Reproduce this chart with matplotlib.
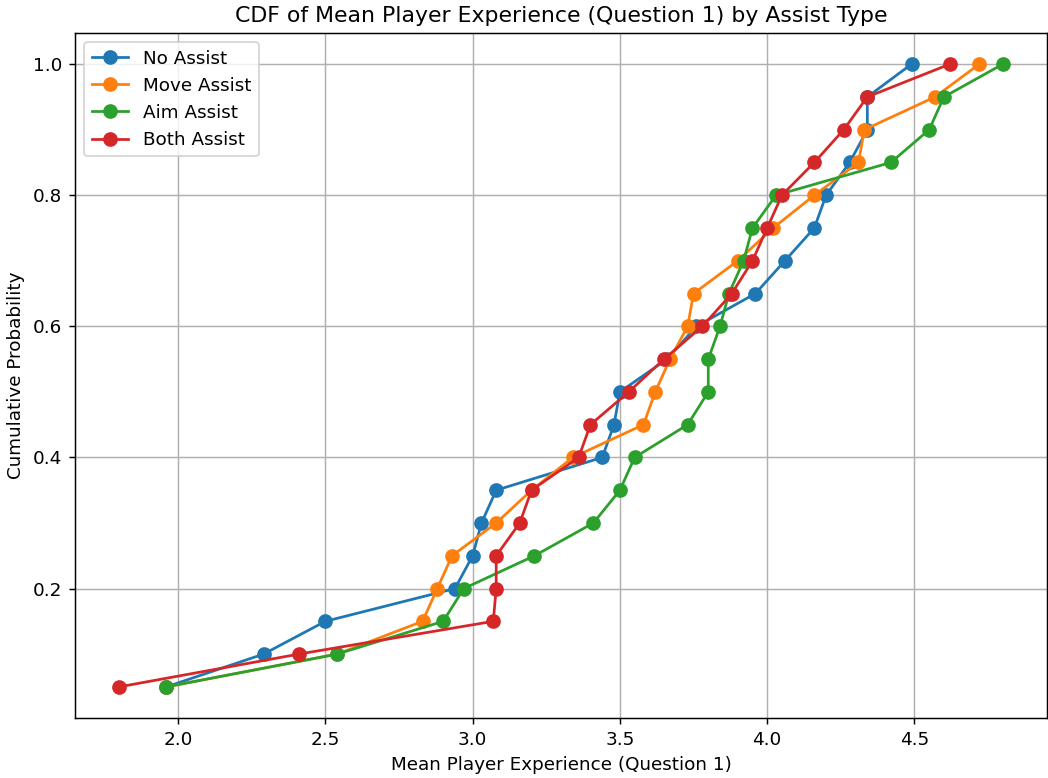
import matplotlib
matplotlib.use("Agg")
import matplotlib.pyplot as plt

# cumulative probability levels (20 participants per group)
probs = [0.05, 0.10, 0.15, 0.20, 0.25, 0.30, 0.35, 0.40, 0.45, 0.50,
         0.55, 0.60, 0.65, 0.70, 0.75, 0.80, 0.85, 0.90, 0.95, 1.00]

no_assist = [1.96, 2.29, 2.50, 2.94, 3.00, 3.03, 3.08, 3.44, 3.48, 3.50,
             3.66, 3.76, 3.96, 4.06, 4.16, 4.20, 4.28, 4.34, 4.34, 4.49]
move_assist = [1.96, 2.54, 2.83, 2.88, 2.93, 3.08, 3.20, 3.34, 3.58, 3.62,
               3.67, 3.73, 3.75, 3.90, 4.02, 4.16, 4.31, 4.33, 4.57, 4.72]
aim_assist = [1.96, 2.54, 2.90, 2.97, 3.21, 3.41, 3.50, 3.55, 3.73, 3.80,
              3.80, 3.84, 3.87, 3.92, 3.95, 4.03, 4.42, 4.55, 4.60, 4.80]
both_assist = [1.80, 2.41, 3.07, 3.08, 3.08, 3.16, 3.20, 3.36, 3.40, 3.53,
               3.65, 3.78, 3.88, 3.95, 4.00, 4.05, 4.16, 4.26, 4.34, 4.62]

series = [
    ("No Assist", no_assist),
    ("Move Assist", move_assist),
    ("Aim Assist", aim_assist),
    ("Both Assist", both_assist),
]

DPI = 132
fig = plt.figure(figsize=(1048 / DPI, 778 / DPI), dpi=DPI)
ax = fig.add_axes([75 / 1048, 1 - 718 / 778, 972 / 1048, 685 / 778])

for name, vals in series:
    ax.plot(vals, probs, marker="o", markersize=7, label=name)

ax.set_title("CDF of Mean Player Experience (Question 1) by Assist Type")
ax.set_xlabel("Mean Player Experience (Question 1)")
ax.set_ylabel("Cumulative Probability")
ax.grid(True)
ax.legend(loc="upper left")

fig.savefig("out.png", dpi=DPI)
